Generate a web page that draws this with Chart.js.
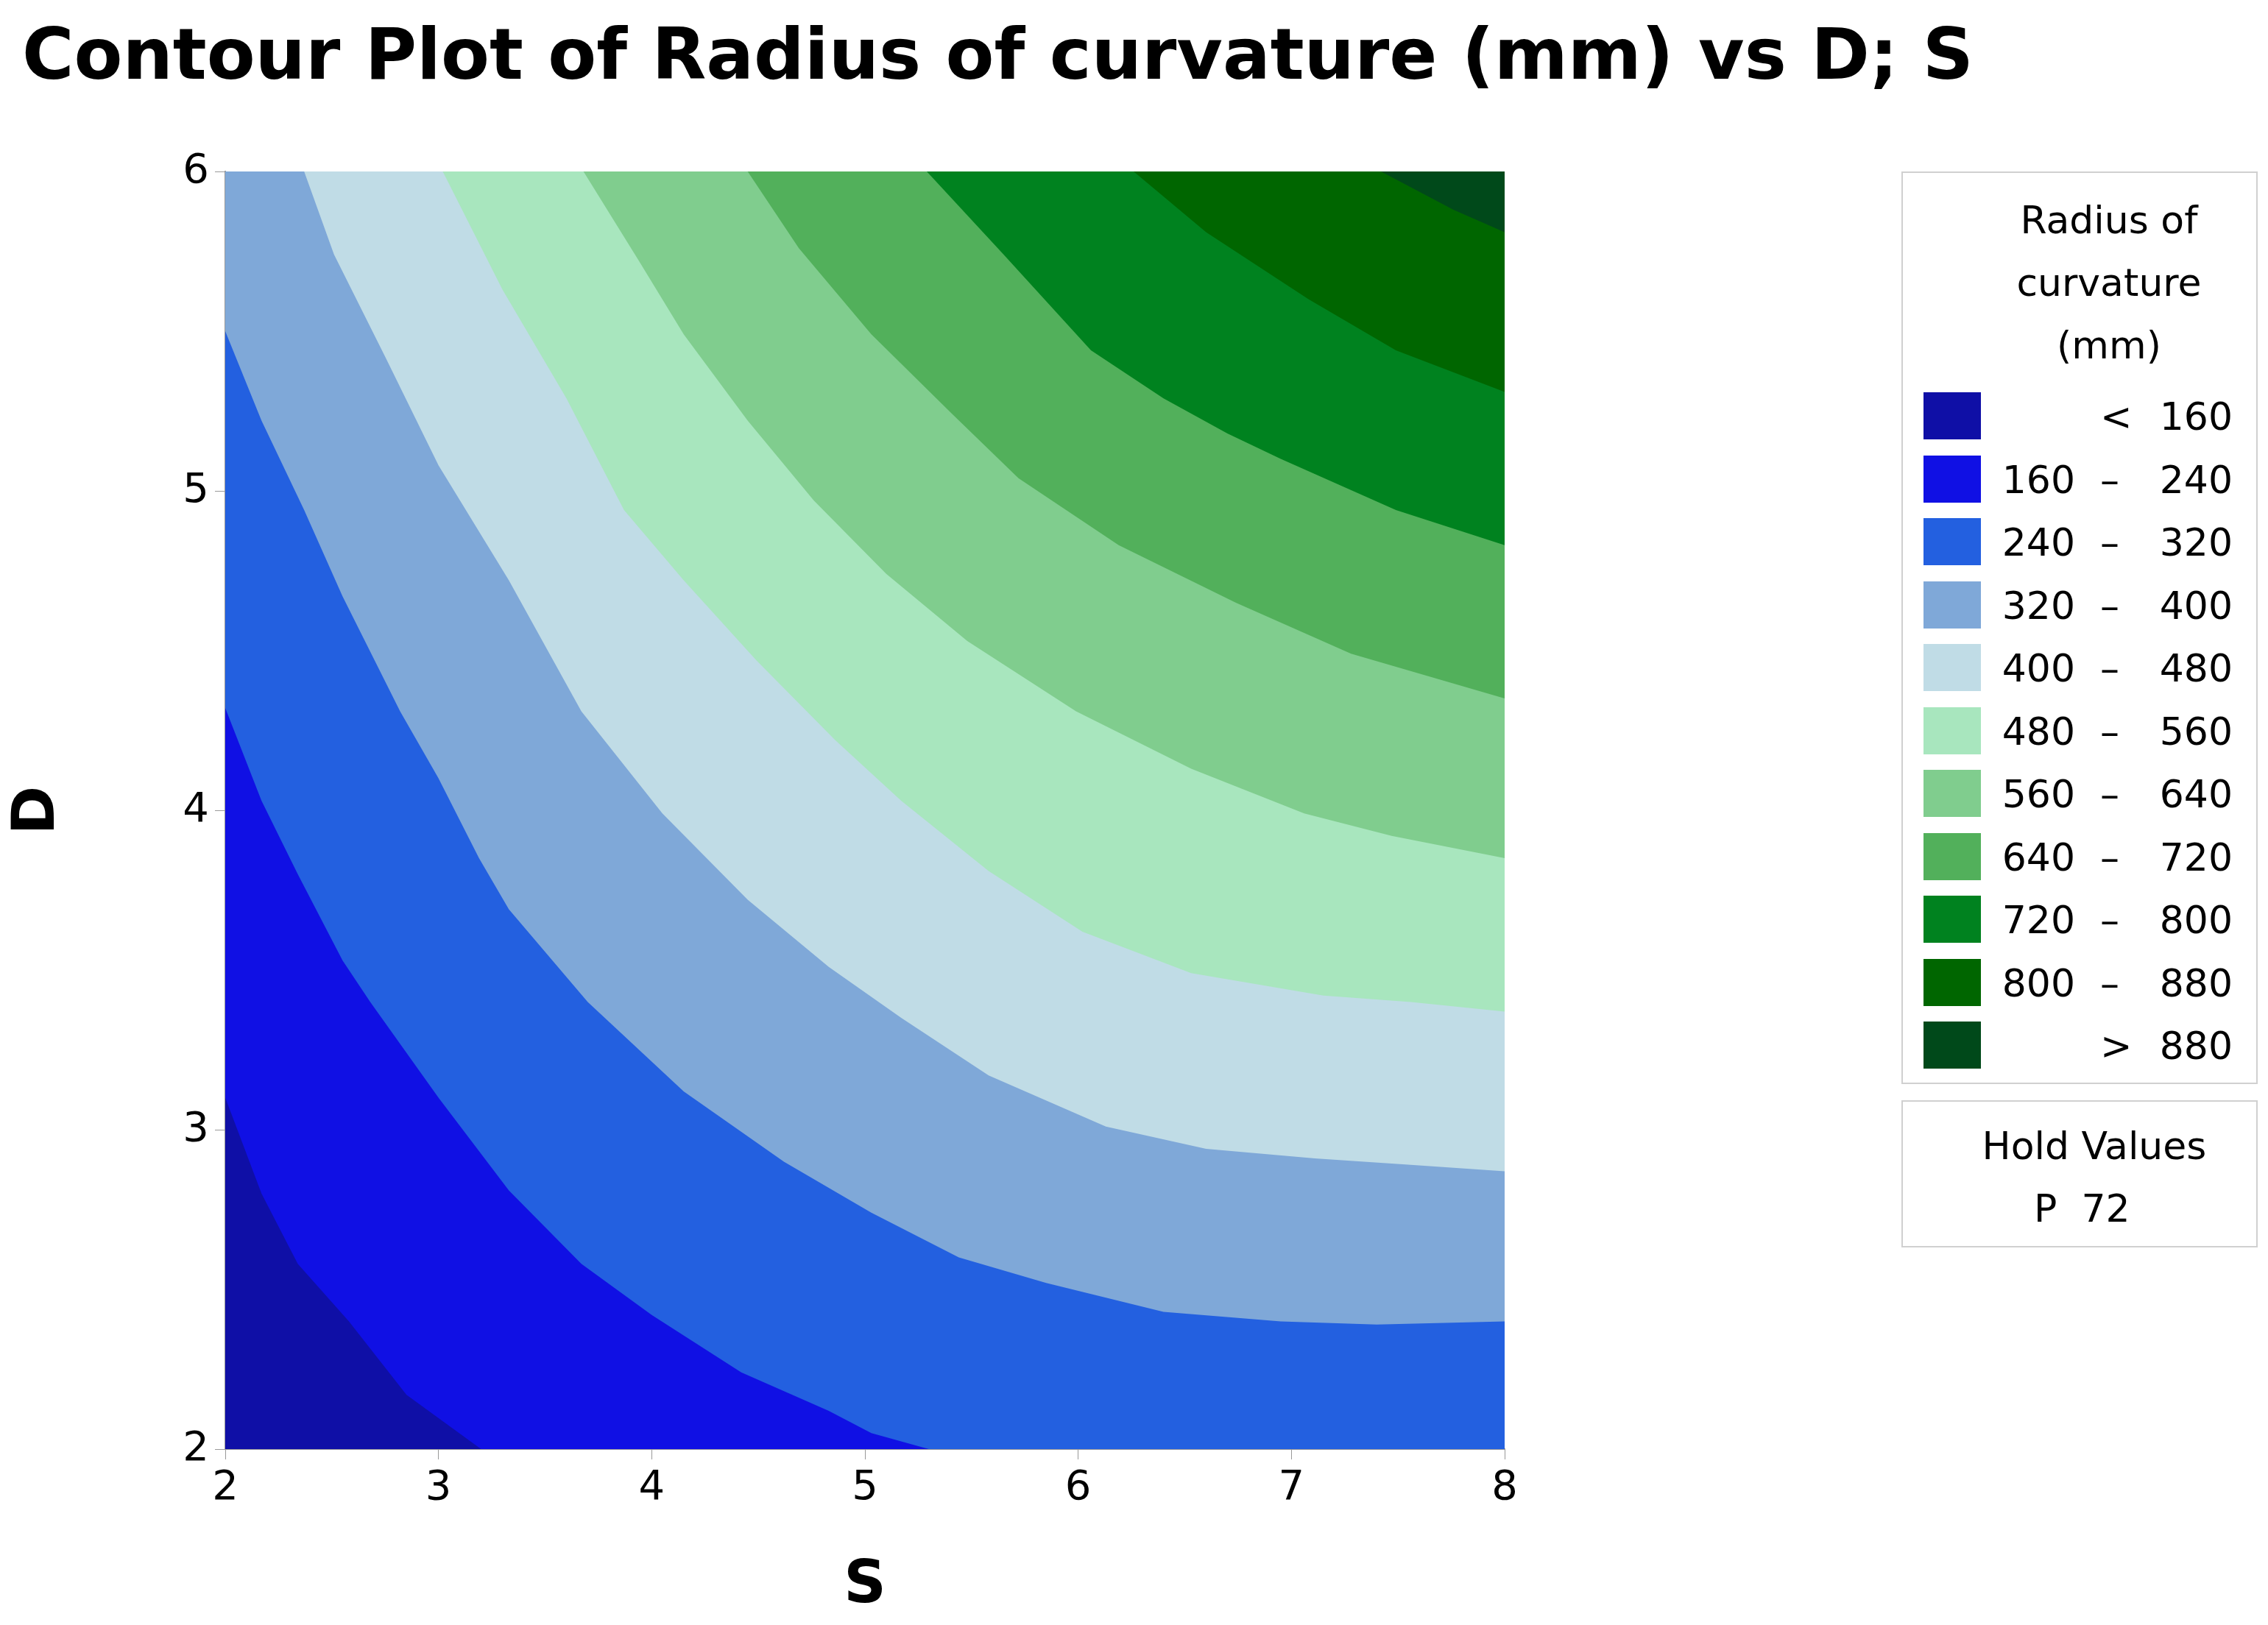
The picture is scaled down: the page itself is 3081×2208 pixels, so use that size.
<!DOCTYPE html>
<html>
<head>
<meta charset="utf-8">
<script src="https://cdn.jsdelivr.net/npm/chart.js@4.4.0/dist/chart.umd.min.js"></script>
<style>
  body { margin: 0; background: #fff; font-family: "DejaVu Sans", Verdana, sans-serif; }
  #wrap { position: relative; width: 3081px; height: 2208px; overflow: hidden; }
  #title { position: absolute; left: 30px; top: 18px; font-size: 96px; font-weight: bold; white-space: nowrap; }
  #chartBox { position: absolute; left: 0; top: 0; width: 2100px; height: 2208px; }
  .box { position: absolute; left: 2583px; width: 484px; border: 2px solid #d0d0d0; box-sizing: border-box; background: #fff; }
  .row { position: absolute; left: 28px; height: 66px; width: 420px; font-size: 52px; line-height: 66px; }
  .sw { position: absolute; left: 0; top: 0; width: 78px; height: 64px; }
  .lo { position: absolute; right: 214px; text-align: right; }
  .dash { position: absolute; left: 240px; }
  .hi { position: absolute; right: 0; text-align: right; }
</style>
</head>
<body>
<div id="wrap">
  <div id="title">Contour Plot of Radius of curvature (mm) vs D; S</div>
  <div id="chartBox"><canvas id="c"></canvas></div>
  <div class="box" id="legend" style="top:233px;height:1240px;">
    <div style="position:absolute;left:100px;width:360px;top:22px;text-align:center;font-size:52px;line-height:85px;">Radius of<br>curvature<br>(mm)</div>
  </div>
  <div class="box" style="top:1495px;height:200px;">
    <div style="position:absolute;left:0;width:100%;top:18px;text-align:center;font-size:52px;line-height:85px;padding-left:40px;box-sizing:border-box;">Hold Values</div>
    <div style="position:absolute;left:178px;top:103px;font-size:52px;line-height:85px;">P&nbsp;&nbsp;72</div>
  </div>
</div>
<script>
// contour levels and band colours (lowest to highest)
const levels = [160, 240, 320, 400, 480, 560, 640, 720, 800, 880];
const bandColors = ["#0f0fa6", "#1010e4", "#2360e0", "#7fa8d8", "#c0dce6", "#a8e6be",
                    "#80cd8e", "#52b05b", "#00821f", "#006600", "#00491a"];
const xTicks = [2, 3, 4, 5, 6, 7, 8];
const yTicks = [2, 3, 4, 5, 6];

// contour boundaries, as [S, D] points
const c160 = [[2,3.1],[2.17,2.8],[2.34,2.58],[2.58,2.4],[2.85,2.17],[3.2,2],[8,2]];
const c240 = [[2,4.32],[2.17,4.03],[2.34,3.8],[2.55,3.53],[2.68,3.4],[3.0,3.1],[3.33,2.81],[3.67,2.58],[4.0,2.42],[4.42,2.24],[4.83,2.12],[5.03,2.05],[5.3,2],[8,2]];
const c320 = [[2,5.5],[2.17,5.22],[2.37,4.94],[2.55,4.67],[2.82,4.31],[3.0,4.1],[3.19,3.85],[3.33,3.69],[3.7,3.4],[4.15,3.12],[4.62,2.9],[5.03,2.74],[5.44,2.6],[5.85,2.52],[6.4,2.43],[6.95,2.4],[7.4,2.39],[8,2.4]];
const c400 = [[2,6],[2.37,6],[2.51,5.74],[2.75,5.42],[3.0,5.08],[3.33,4.72],[3.67,4.31],[4.05,3.99],[4.45,3.72],[4.83,3.51],[5.17,3.35],[5.58,3.17],[6.13,3.01],[6.6,2.94],[7.11,2.91],[7.56,2.89],[8,2.87]];
const c480 = [[2,6],[3.02,6],[3.3,5.63],[3.6,5.29],[3.87,4.94],[4.15,4.72],[4.49,4.47],[4.86,4.22],[5.17,4.03],[5.58,3.81],[6.02,3.62],[6.53,3.49],[7.15,3.42],[7.56,3.4],[8,3.37]];
const c560 = [[2,6],[3.68,6],[3.94,5.72],[4.15,5.49],[4.45,5.22],[4.76,4.97],[5.1,4.74],[5.48,4.53],[5.99,4.31],[6.53,4.13],[7.06,3.99],[7.47,3.92],[8,3.85]];
const c640 = [[2,6],[4.45,6],[4.69,5.76],[5.03,5.49],[5.41,5.24],[5.72,5.04],[6.19,4.83],[6.74,4.65],[7.28,4.49],[8,4.35]];
const c720 = [[2,6],[5.29,6],[5.65,5.74],[6.06,5.44],[6.4,5.29],[6.7,5.18],[6.95,5.1],[7.49,4.94],[8,4.83]];
const c800 = [[2,6],[6.26,6],[6.6,5.81],[7.08,5.6],[7.49,5.44],[8,5.31]];
const c880 = [[2,6],[7.42,6],[7.76,5.88],[8,5.81]];
const cTop = [[2,6],[8,6]];
const boundaries = [c160, c240, c320, c400, c480, c560, c640, c720, c800, c880, cTop];

// each boundary fills down to D=2 with the band below it; filler paints last dataset first
const datasets = boundaries.map((pts, i) => ({
  data: pts.map(p => ({ x: p[0], y: p[1] })),
  backgroundColor: bandColors[i],
  borderWidth: 0,
  pointRadius: 0,
  fill: "start",
  tension: 0
}));

// legend rows
const legend = document.getElementById("legend");
bandColors.forEach((col, i) => {
  const row = document.createElement("div");
  row.className = "row";
  row.style.top = (298 + i * 85.5) + "px";
  let lo = "", dash = "", hi = "";
  if (i === 0) { dash = "<"; hi = levels[0]; }
  else if (i === bandColors.length - 1) { dash = ">"; hi = levels[levels.length - 1]; }
  else { lo = levels[i - 1]; dash = "\u2013"; hi = levels[i]; }
  row.innerHTML = '<div class="sw" style="background:' + col + '"></div>' +
    '<span class="lo">' + lo + '</span><span class="dash">' + dash + '</span><span class="hi">' + hi + '</span>';
  legend.appendChild(row);
});

const tickFont = { family: "DejaVu Sans", size: 56 };
new Chart(document.getElementById("c"), {
  type: "line",
  data: { datasets },
  options: {
    responsive: true,
    maintainAspectRatio: false,
    animation: false,
    layout: { padding: { top: 233, right: 56, bottom: 0, left: 0 } },
    plugins: { legend: { display: false }, tooltip: { enabled: false } },
    scales: {
      x: {
        type: "linear", min: 2, max: 8,
        afterBuildTicks: s => { s.ticks = xTicks.map(v => ({ value: v })); },
        ticks: { font: tickFont, color: "#000", padding: 6 },
        grid: { drawOnChartArea: false, tickLength: 14, color: "#999" },
        border: { color: "#999", width: 2 },
        title: { display: true, text: "S", font: { family: "DejaVu Sans", size: 80, weight: "bold" }, color: "#000", padding: { top: 20 } },
        afterFit: s => { s.height = 239; }
      },
      y: {
        type: "linear", min: 2, max: 6,
        afterBuildTicks: s => { s.ticks = yTicks.map(v => ({ value: v })); },
        ticks: { font: tickFont, color: "#000", padding: 8 },
        grid: { drawOnChartArea: false, tickLength: 14, color: "#999" },
        border: { color: "#999", width: 2 },
        title: { display: true, text: "D", font: { family: "DejaVu Sans", size: 80, weight: "bold" }, color: "#000", padding: { bottom: 40 } },
        afterFit: s => { s.width = 306; }
      }
    }
  },
  plugins: [{
    id: "fitRight",
    beforeInit: ch => { ch.options.layout.padding.right = 2100 - 2044; }
  }]
});
</script>
</body>
</html>
